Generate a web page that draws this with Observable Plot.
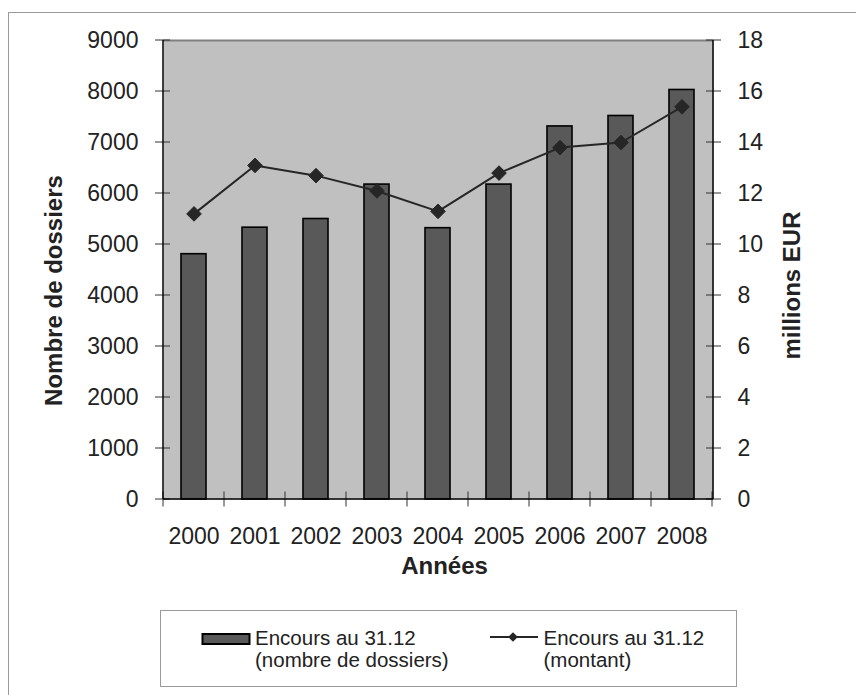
<!DOCTYPE html>
<html lang="fr">
<head>
<meta charset="utf-8">
<script src="https://cdn.jsdelivr.net/npm/d3@7"></script>
<script src="https://cdn.jsdelivr.net/npm/@observablehq/plot@0.6"></script>
<style>
  html, body { margin: 0; padding: 0; background: #fff; overflow: hidden; }
  #page { position: relative; width: 856px; height: 695px; font-family: "Liberation Sans", Arial, sans-serif; color: #222; }
  #outer { position: absolute; left: 8px; top: 12px; width: 900px; height: 750px; border: 1.5px solid #9a9a9a; box-sizing: border-box; }
  #chart { position: absolute; left: 0; top: 0; }
  #legend { position: absolute; left: 160px; top: 610px; width: 577px; height: 77px; border: 1.5px solid #9a9a9a; box-sizing: border-box; background: #fff; }
  .item { position: absolute; font-size: 20.5px; line-height: 21.5px; white-space: nowrap; }
  .sw { position: absolute; }
</style>
</head>
<body>
<div id="page">
  <div id="outer"></div>
  <div id="chart"></div>
  <div id="legend"></div>
</div>
<script>
// Encours au 31.12 : nombre de dossiers (axe gauche) et montant en millions EUR (axe droit)
const years = ["2000", "2001", "2002", "2003", "2004", "2005", "2006", "2007", "2008"];
const dossiers = [4810, 5330, 5500, 6175, 5320, 6175, 7315, 7520, 8030];
const montant = [11.2, 13.1, 12.7, 12.1, 11.3, 12.8, 13.8, 14.0, 15.4];

const yTicks = [0, 1000, 2000, 3000, 4000, 5000, 6000, 7000, 8000, 9000];
const y2Ticks = [0, 2, 4, 6, 8, 10, 12, 14, 16, 18];

const labelLeft = "Nombre de dossiers";
const labelRight = "millions EUR";
const labelX = "Années";
const legendBar = ["Encours au 31.12", "(nombre de dossiers)"];
const legendLine = ["Encours au 31.12", "(montant)"];

// the right axis shares the y scale: 0–18 maps onto 0–9000
const yMax = yTicks[yTicks.length - 1];
const y2Max = y2Ticks[y2Ticks.length - 1];
const ratio = yMax / y2Max;

const data = years.map((year, i) => ({year, dossiers: dossiers[i], montant: montant[i]}));

// axis lines, category separators and crossing tick marks
function axesFrame(index, scales, values, dimensions) {
  const {x, y} = scales;
  const {width, marginLeft, marginRight} = dimensions;
  const left = marginLeft, right = width - marginRight;
  const step = x.step(), bw = x.bandwidth();
  const g = d3.create("svg:g").attr("fill", "none");
  const y0 = y(0), yTop = y(yMax);
  // separators between categories
  const bounds = years.map(v => x(v) - (step - bw) / 2).concat([x(years[years.length - 1]) + bw + (step - bw) / 2]);
  g.append("g").attr("stroke", "#333").attr("stroke-width", 1)
    .selectAll("line").data(bounds).join("line")
    .attr("x1", d => d).attr("x2", d => d)
    .attr("y1", y0 - 7.5).attr("y2", y0 + 7.5);
  // left ticks
  g.append("g").attr("stroke", "#333").attr("stroke-width", 1)
    .selectAll("line").data(yTicks).join("line")
    .attr("x1", left - 8).attr("x2", left + 7)
    .attr("y1", d => y(d)).attr("y2", d => y(d));
  // right ticks
  g.append("g").attr("stroke", "#333").attr("stroke-width", 1)
    .selectAll("line").data(y2Ticks).join("line")
    .attr("x1", right - 7).attr("x2", right + 8)
    .attr("y1", d => y(d * ratio)).attr("y2", d => y(d * ratio));
  // vertical axis lines
  g.append("line").attr("stroke", "#000").attr("stroke-width", 1.5)
    .attr("x1", left).attr("x2", left).attr("y1", yTop).attr("y2", y0);
  g.append("line").attr("stroke", "#000").attr("stroke-width", 1.5)
    .attr("x1", right).attr("x2", right).attr("y1", yTop).attr("y2", y0);
  // baseline
  g.append("line").attr("stroke", "#000").attr("stroke-width", 1.5)
    .attr("x1", left).attr("x2", right).attr("y1", y0).attr("y2", y0);
  return g.node();
}

const chart = Plot.plot({
  width: 856,
  height: 580,
  marginLeft: 163,
  marginRight: 143,
  marginTop: 40,
  marginBottom: 81,
  style: {fontFamily: "'Liberation Sans', Arial, sans-serif", fontSize: "23px", color: "#222", background: "transparent", overflow: "visible"},
  x: {domain: years, paddingInner: 0.59, paddingOuter: 0.295, label: null},
  y: {domain: [0, yMax], label: null},
  marks: [
    Plot.frame({fill: "#c0c0c0", stroke: null}),
    Plot.ruleY([yMax], {stroke: "#808080", strokeWidth: 2}),
    Plot.barY(data, {x: "year", y: "dossiers", fill: "#595959", stroke: "#000", strokeWidth: 1.6}),
    Plot.line(data, {x: "year", y: d => d.montant * ratio, stroke: "#262626", strokeWidth: 2}),
    Plot.dot(data, {x: "year", y: d => d.montant * ratio, symbol: "diamond2", r: 6.6, fill: "#262626", stroke: "#262626", strokeWidth: 1}),
    axesFrame,
    Plot.axisY({anchor: "left", ticks: yTicks, tickFormat: v => String(v), tickSize: 0, tickPadding: 25, label: null, fill: "#222"}),
    Plot.axisY({anchor: "right", ticks: y2Ticks.map(v => v * ratio), tickFormat: v => String(Math.round(v / ratio)), tickSize: 0, tickPadding: 24, label: null, fill: "#222"}),
    Plot.axisX({tickSize: 0, tickPadding: 28, label: null, fill: "#222"}),
    Plot.text([labelLeft], {frameAnchor: "left", textAnchor: "middle", lineAnchor: "middle", dx: -109, dy: 20.5, rotate: -90, fontSize: 24, fontWeight: "bold", fill: "#222"}),
    Plot.text([labelRight], {frameAnchor: "right", textAnchor: "middle", lineAnchor: "middle", dx: 79, dy: 15.5, rotate: -90, fontSize: 24, fontWeight: "bold", fill: "#222"}),
    Plot.text([labelX], {frameAnchor: "bottom", textAnchor: "middle", lineAnchor: "middle", dx: 6, dy: 67, fontSize: 24, fontWeight: "bold", fill: "#222"})
  ]
});
document.getElementById("chart").appendChild(chart);

// legend below the plot
const legend = document.getElementById("legend");
const L = 160, T = 610; // legend box origin in page coordinates
function place(el, x, y) { el.style.left = (x - L) + "px"; el.style.top = (y - T) + "px"; legend.appendChild(el); }

const barSw = d3.create("svg").attr("class", "sw").attr("width", 52).attr("height", 16);
barSw.append("rect").attr("x", 1.5).attr("y", 2).attr("width", 47).attr("height", 10)
  .attr("fill", "#595959").attr("stroke", "#000").attr("stroke-width", 2);
place(barSw.node(), 199.5, 631);

const lineSw = d3.create("svg").attr("class", "sw").attr("width", 50).attr("height", 16);
lineSw.append("line").attr("x1", 0).attr("x2", 48).attr("y1", 8).attr("y2", 8).attr("stroke", "#262626").attr("stroke-width", 2);
lineSw.append("path").attr("d", d3.symbol(d3.symbolDiamond2, 60)()).attr("transform", "translate(23,8)").attr("fill", "#262626");
place(lineSw.node(), 489, 628);

const t1 = document.createElement("div"); t1.className = "item"; t1.innerHTML = legendBar.join("<br>");
place(t1, 254, 626);
const t2 = document.createElement("div"); t2.className = "item"; t2.innerHTML = legendLine.join("<br>");
place(t2, 542.5, 626);
</script>
</body>
</html>
